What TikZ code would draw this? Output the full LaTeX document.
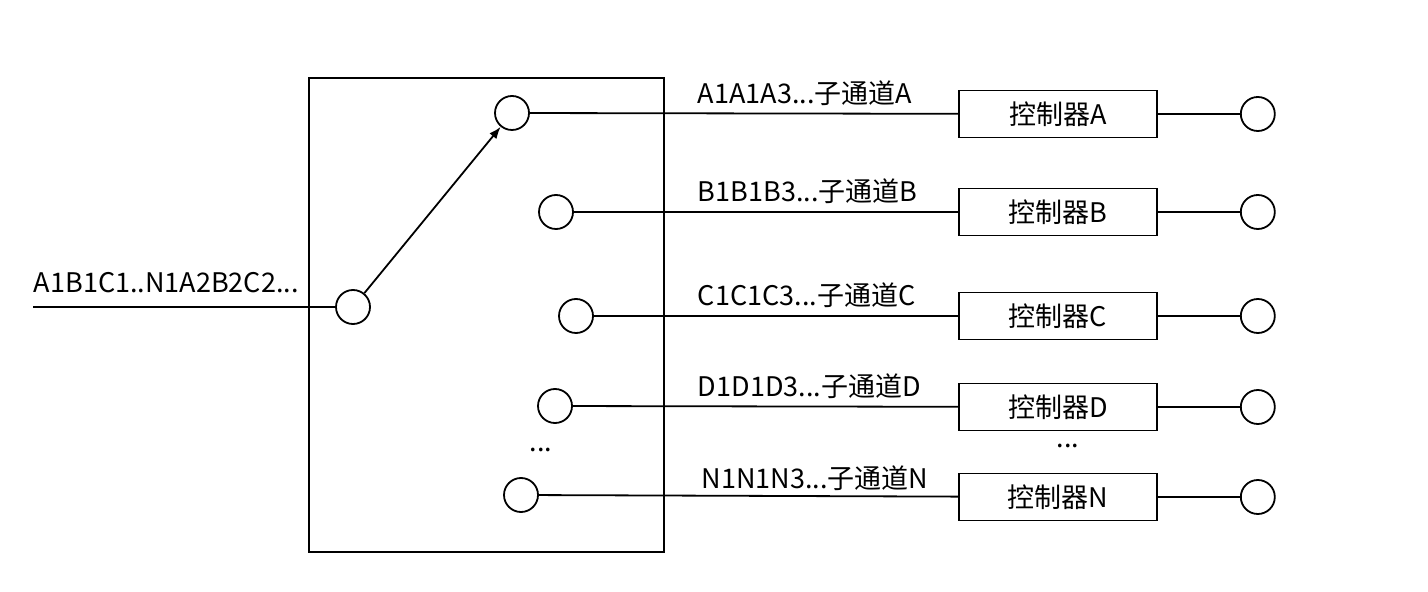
\documentclass[tikz,border=0pt]{standalone}
\usepackage{fontspec}
\setmainfont{Noto Sans CJK SC}
\usetikzlibrary{positioning,arrows.meta}

\begin{document}
\begin{tikzpicture}[
    x=0.5pt, y=-0.5pt,
    line width=0.9pt,
    font=\fontsize{13.5}{16}\selectfont,
    node distance = 41pt,
    port/.style={
        circle,
        draw,
        inner sep=0pt,
        minimum size=17pt
        },
    ctrl/.style={
        draw,
        inner sep=0pt,
        minimum width=99pt,
        minimum height=23.5pt
        },
    chan/.style={
        anchor=base west,
        inner sep=0pt
        },
]

\useasboundingbox (0,0) rectangle (1428,592);

\node[draw, inner sep=0pt, minimum width=177.5pt, minimum height=237pt](sw) at (486.5,315){};

\node[port](in) at (353,307){};
\coordinate (src) at (33,307);
\draw (src) -- (in);
\node[chan] at (33,293){A1B1C1..N1A2B2C2...};

\node[port](oA) at (512,113){};
\node[port](oB) at (556,212){};
\node[port](oC) at (576,316){};
\node[port](oD) at (555,406){};
\node[port](oN) at (521,495){};
\node at (541,450){...};

\draw[-{Latex[length=6pt,width=4.5pt]}] (in) -- (oA);

\node[ctrl](cA) at (1058,114){控制器A};
\node[ctrl](cB) at (1058,212){控制器B};
\node[ctrl](cC) at (1058,316){控制器C};
\node[ctrl](cD) at (1058,407){控制器D};
\node[ctrl](cN) at (1058,497){控制器N};
\node at (1068,446){...};

\node[port, right=of cA](rA){};
\node[port, right=of cB](rB){};
\node[port, right=of cC](rC){};
\node[port, right=of cD](rD){};
\node[port, right=of cN](rN){};

\draw (oA) -- (cA) (cA) -- (rA);
\draw (oB) -- (cB) (cB) -- (rB);
\draw (oC) -- (cC) (cC) -- (rC);
\draw (oD) -- (cD) (cD) -- (rD);
\draw (oN) -- (cN) (cN) -- (rN);

\node[chan] at (697,104){A1A1A3...子通道A};
\node[chan] at (697,202){B1B1B3...子通道B};
\node[chan] at (697,306){C1C1C3...子通道C};
\node[chan] at (697,397){D1D1D3...子通道D};
\node[chan] at (701,488){N1N1N3...子通道N};

\end{tikzpicture}
\end{document}
